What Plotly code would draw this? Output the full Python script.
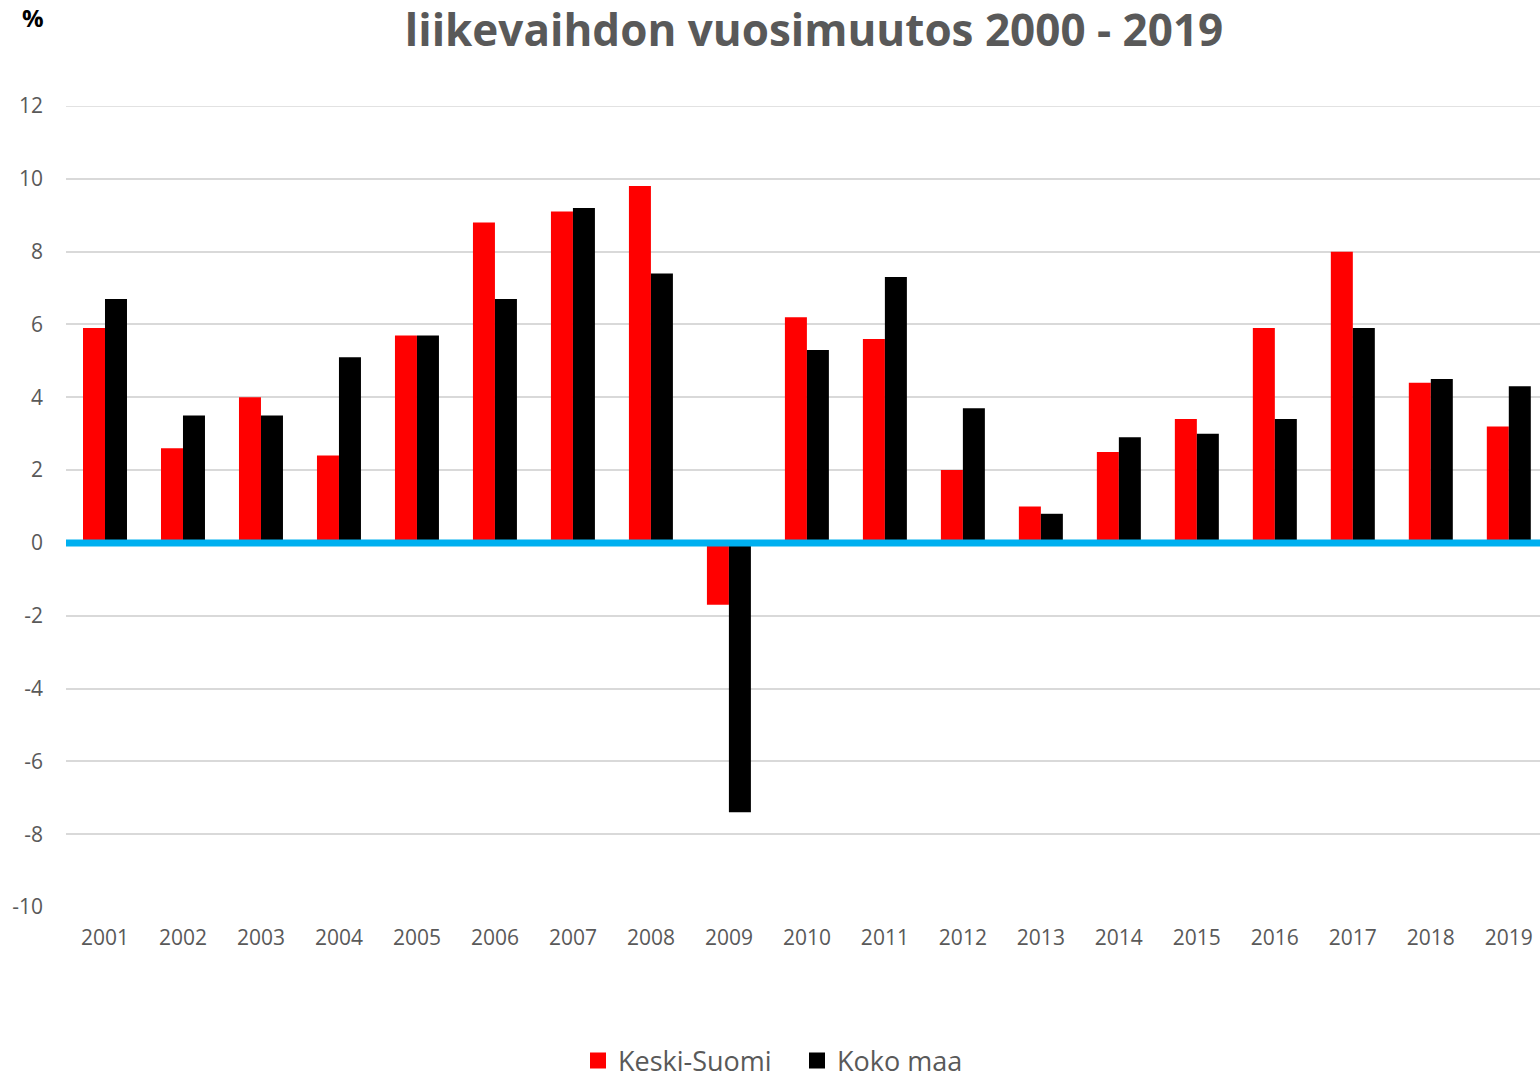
import plotly.graph_objects as go

years = ["2001", "2002", "2003", "2004", "2005", "2006", "2007", "2008", "2009", "2010",
         "2011", "2012", "2013", "2014", "2015", "2016", "2017", "2018", "2019"]
keski_suomi = [5.9, 2.6, 4.0, 2.4, 5.7, 8.8, 9.1, 9.8, -1.7, 6.2,
               5.6, 2.0, 1.0, 2.5, 3.4, 5.9, 8.0, 4.4, 3.2]
koko_maa = [6.7, 3.5, 3.5, 5.1, 5.7, 6.7, 9.2, 7.4, -7.4, 5.3,
            7.3, 3.7, 0.8, 2.9, 3.0, 3.4, 5.9, 4.5, 4.3]
y_ticks = [-10, -8, -6, -4, -2, 0, 2, 4, 6, 8, 10, 12]
y_tick_labels = ["-10", "-8", "-6", "-4", "-2", "0", "2", "4", "6", "8", "10", "12"]

FONT = "Open Sans"
GRAY = "#595959"
RED = "#FF0000"
BLACK = "#000000"

W, H = 1540, 1079
L, T, B = 66, 106, 172
PW = W - L
PH = H - T - B

fig = go.Figure()
fig.add_trace(go.Bar(x=years, y=keski_suomi, name="Keski-Suomi", showlegend=False,
                     marker=dict(color=RED, line=dict(width=0))))
fig.add_trace(go.Bar(x=years, y=koko_maa, name="Koko maa", showlegend=False,
                     marker=dict(color=BLACK, line=dict(width=0))))
# legend entries with larger square swatches
fig.add_trace(go.Scatter(x=[None], y=[None], mode="markers", name="Keski-Suomi",
                         marker=dict(symbol="square", size=21, color=RED)))
fig.add_trace(go.Scatter(x=[None], y=[None], mode="markers", name="Koko maa",
                         marker=dict(symbol="square", size=21, color=BLACK)))

fig.update_layout(
    width=W, height=H,
    margin=dict(l=L, r=0, t=T, b=B, autoexpand=False),
    paper_bgcolor="white", plot_bgcolor="white",
    barmode="group", bargap=0.436, bargroupgap=0,
    font=dict(family=FONT, color=GRAY),
    title=dict(text="<b>liikevaihdon vuosimuutos 2000 - 2019</b>",
               font=dict(family=FONT, size=44, color=GRAY),
               x=814 / W, xanchor="center", xref="container",
               y=1 - 31 / H, yanchor="middle", yref="container"),
    legend=dict(orientation="h", x=(578 - L) / PW, xanchor="left",
                y=(T + PH - 1061) / PH, yanchor="middle",
                font=dict(family=FONT, size=27, color=GRAY),
                itemwidth=30, entrywidth=174, traceorder="normal", tracegroupgap=0),
    xaxis=dict(type="category", range=[-0.5, 18.4], showgrid=False,
               showline=False, ticks="", tickfont=dict(size=21, color=GRAY),
               ticklabelstandoff=16),
    yaxis=dict(range=[-10, 12], tickvals=y_ticks, ticktext=y_tick_labels,
               showgrid=True, gridcolor="#D9D9D9", gridwidth=1.5, zeroline=False,
               showline=False, ticks="", tickfont=dict(size=21, color=GRAY),
               ticklabelstandoff=22),
    annotations=[dict(text="<b>%</b>", x=(33 - L) / PW, y=(T + PH - 18) / PH,
                      xref="paper", yref="paper", xanchor="center", yanchor="middle",
                      showarrow=False, font=dict(family=FONT, size=24, color="black"))],
)

fig.add_shape(type="line", xref="paper", yref="y", x0=0, x1=1, y0=0, y1=0,
              line=dict(color="#00B0F0", width=7), layer="above")
# top gridline at 12 (range edge)
fig.add_shape(type="line", xref="paper", yref="y", x0=0, x1=1, y0=12, y1=12,
              line=dict(color="#D9D9D9", width=1.5), layer="below")

fig.write_html("out.html", config={"displayModeBar": False})

with open("out.html", "r", encoding="utf-8") as f:
    html = f.read()
html = html.replace("<body>", '<body style="margin:0;overflow:hidden">', 1)
with open("out.html", "w", encoding="utf-8") as f:
    f.write(html)
